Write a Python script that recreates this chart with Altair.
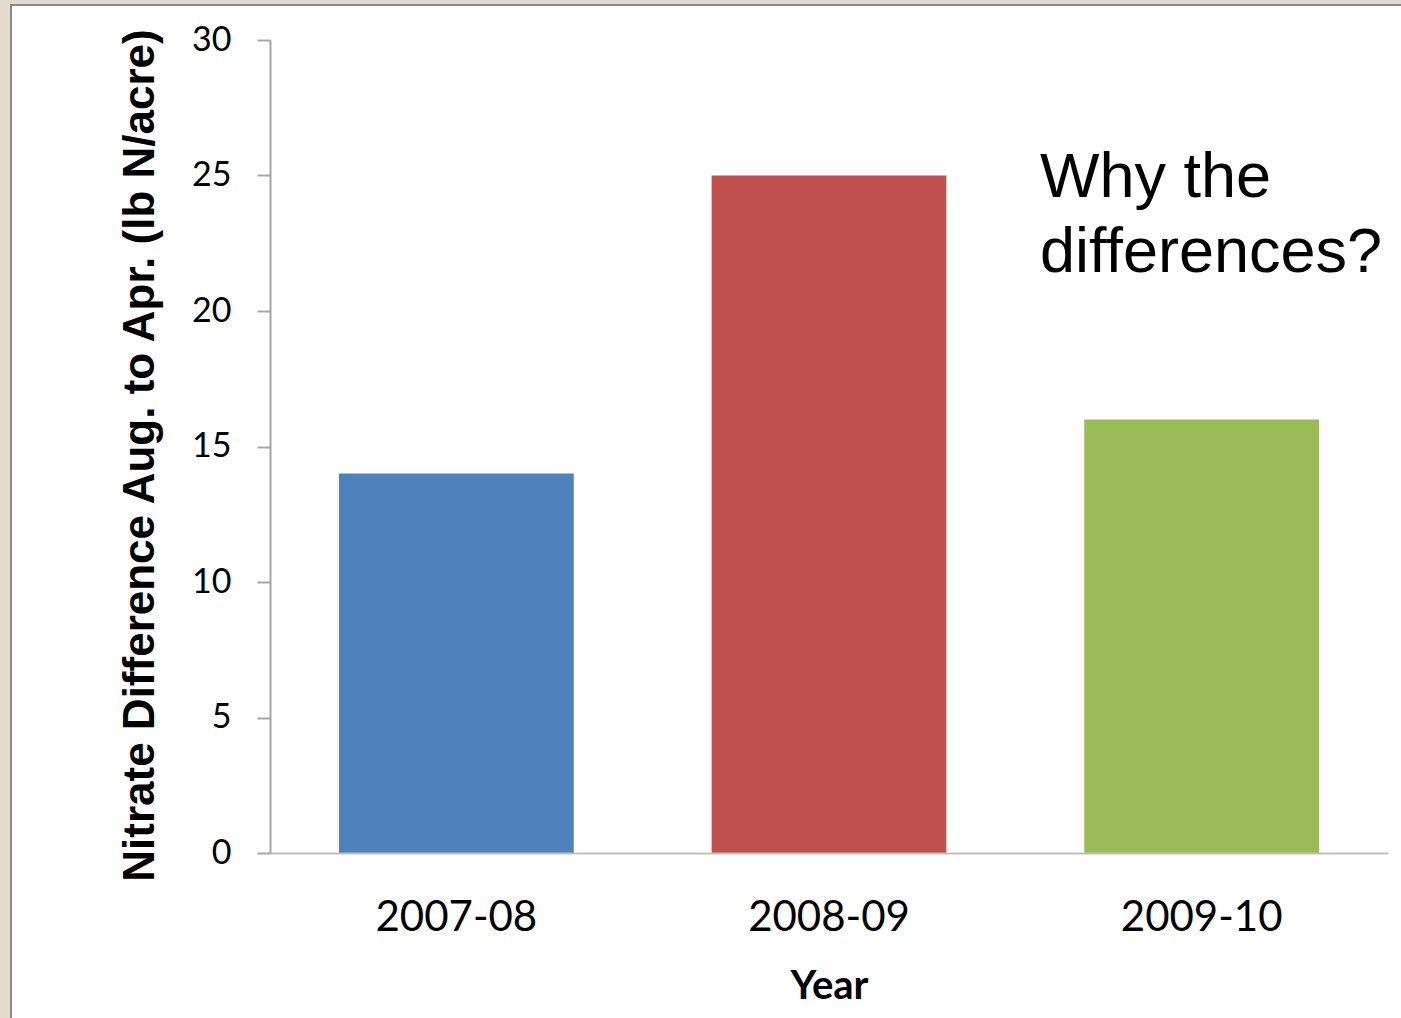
import altair as alt
import pandas as pd

# Nitrate difference (Aug. to Apr.) by season
years = ["2007-08", "2008-09", "2009-10"]
nitrate_diff = [14, 25, 16]
bar_colors = ["#4F81BD", "#C0504D", "#9BBB59"]
y_ticks = [0, 5, 10, 15, 20, 25, 30]
note_lines = ["Why the", "differences?"]

df = pd.DataFrame({"Year": years, "Nitrate": nitrate_diff})

W, H = 1118, 813  # plot area
PAD_L, PAD_T = 270, 40

# white slide panel behind the chart, with a thin grey edge
panel = alt.Chart(pd.DataFrame({"k": [0]})).mark_rect(
    fill="white", stroke="#8a8a8a", strokeWidth=2, clip=False
).encode(
    x=alt.value(11 - PAD_L), x2=alt.value(1450 - PAD_L),
    y=alt.value(5 - PAD_T), y2=alt.value(1060 - PAD_T),
)

bars = alt.Chart(df).mark_bar().encode(
    x=alt.X(
        "Year:N", sort=years,
        scale=alt.Scale(paddingInner=0.37, paddingOuter=0.185),
        axis=alt.Axis(
            title="Year", labelAngle=0, ticks=False, zindex=1,
            labelFont="Lato", labelFontSize=42, labelColor="#000000",
            labelPadding=44, labelBaseline="top",
            domainColor="#bfbfbf", domainWidth=2,
            titleFont="Lato", titleFontSize=40, titleFontWeight="bold",
            titleColor="#000000", titleBaseline="alphabetic",
            titleX=W / 2, titleY=145,
        ),
    ),
    y=alt.Y(
        "Nitrate:Q",
        scale=alt.Scale(domain=[0, 30], nice=False),
        axis=alt.Axis(
            values=y_ticks, grid=False, zindex=1,
            title="Nitrate Difference Aug. to Apr. (lb N/acre)",
            labelFont="Lato", labelFontSize=34, labelColor="#000000",
            labelPadding=26, tickSize=13, tickColor="#a6a6a6", tickWidth=2,
            domainColor="#a6a6a6", domainWidth=2,
            titleFont="Liberation Sans", titleFontSize=44, titleFontWeight="bold",
            titleColor="#000000", titleAngle=-90, titleAlign="center",
            titleBaseline="alphabetic", titleX=153 - PAD_L, titleY=455 - PAD_T,
        ),
    ),
    color=alt.Color("Year:N", scale=alt.Scale(domain=years, range=bar_colors), legend=None),
)

note = alt.Chart(pd.DataFrame({"t": [note_lines]})).mark_text(
    align="left", baseline="alphabetic", font="Liberation Sans",
    fontSize=63, lineHeight=75, color="#000000",
).encode(
    x=alt.value(1040 - PAD_L), y=alt.value(197 - PAD_T), text="t:N"
)

chart = alt.layer(panel, bars, note).properties(
    width=W, height=H,
    background="#e4dbcd",
    padding={"left": PAD_L, "top": PAD_T, "right": 1401 - PAD_L - W, "bottom": 1018 - PAD_T - H},
    autosize=alt.AutoSizeParams(type="none"),
).configure_view(stroke=None)

chart.save("out.html", embed_options={"renderer": "svg", "actions": False})
